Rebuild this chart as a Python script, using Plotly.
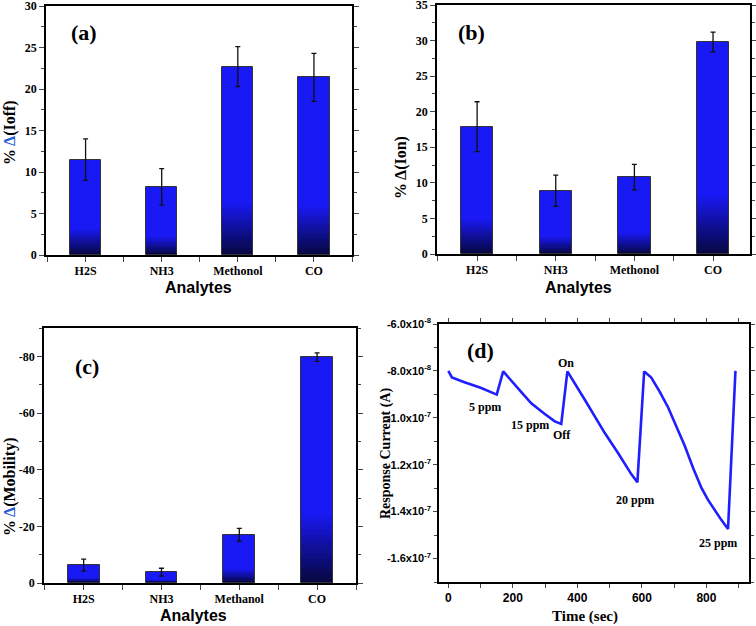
import plotly.graph_objects as go

# ---------------- data ----------------
categories_ab = ["H2S", "NH3", "Methonol", "CO"]
categories_c = ["H2S", "NH3", "Methanol", "CO"]
ioff_vals = [11.5, 8.2, 22.7, 21.4]
ioff_err = [2.5, 2.2, 2.4, 2.9]
ion_vals = [17.9, 8.9, 10.8, 29.8]
ion_err = [3.5, 2.2, 1.8, 1.4]
mob_vals = [-6.3, -3.8, -17.0, -79.7]
mob_err = [2.1, 1.4, 2.3, 1.5]

y_ticks_ab = [0, 5, 10, 15, 20, 25, 30, 35]
y_ticks_c = [0, -20, -40, -60, -80]
y_ticktext_c = ["0", "-20", "-40", "-60", "-80"]

time_s = [0, 11, 50, 100, 150, 170, 216, 257, 299, 330, 350,
          369, 423, 485, 526, 567, 586,
          607, 629, 655, 681, 707, 733, 759, 785, 805, 826, 846, 867, 890]
current_a = [-8.0e-8, -8.28e-8, -8.48e-8, -8.72e-8, -9.01e-8, -8.02e-8, -8.74e-8, -9.38e-8, -9.84e-8, -1.015e-7, -1.026e-7,
             -8.02e-8, -9.23e-8, -1.065e-7, -1.15e-7, -1.24e-7, -1.275e-7,
             -8.02e-8, -8.28e-8, -8.88e-8, -9.55e-8, -1.035e-7, -1.12e-7, -1.215e-7, -1.30e-7, -1.35e-7, -1.395e-7, -1.435e-7, -1.474e-7, -8.0e-8]

y_ticks_d = [-1.6e-7, -1.4e-7, -1.2e-7, -1.0e-7, -8.0e-8, -6.0e-8]
y_ticktext_d = ["-1.6x10<sup>-7</sup>", "-1.4x10<sup>-7</sup>", "-1.2x10<sup>-7</sup>",
                "-1.0x10<sup>-7</sup>", "-8.0x10<sup>-8</sup>", "-6.0x10<sup>-8</sup>"]

labels_d = ["5 ppm", "15 ppm", "Off", "On", "20 ppm", "25 ppm"]
labels_d_t = [115, 252, 353, 364, 578, 836]
labels_d_y = [-9.52e-8, -1.03e-7, -1.072e-7, -7.67e-8, -1.349e-7, -1.533e-7]

# ---------------- styling ----------------
SERIF = "Liberation Serif, Times New Roman, serif"
SANS = "Liberation Sans, Arial, sans-serif"
TOP = (25, 25, 245)
BOT = (8, 8, 70)

fig = go.Figure()


def add_bars(xa, ya, vals, errs, frac=0.27, width=0.41):
    xs = list(range(len(vals)))
    fig.add_trace(go.Bar(x=xs, y=vals, width=width, xaxis=xa, yaxis=ya,
                         marker=dict(color="rgb(%d,%d,%d)" % TOP, line=dict(width=0)),
                         showlegend=False, hoverinfo="skip"))
    n = 14
    for k in range(n):
        t = (k + 1) / n
        c = tuple(int(TOP[i] + (BOT[i] - TOP[i]) * t) for i in range(3))
        h = [v * frac * (1 - k / n) for v in vals]
        fig.add_trace(go.Bar(x=xs, y=h, width=width, xaxis=xa, yaxis=ya,
                             marker=dict(color="rgb(%d,%d,%d)" % c, line=dict(width=0)),
                             showlegend=False, hoverinfo="skip"))
    fig.add_trace(go.Bar(x=xs, y=vals, width=width, xaxis=xa, yaxis=ya,
                         marker=dict(color="rgba(0,0,0,0)", line=dict(width=1, color="#333")),
                         error_y=dict(type="data", array=errs, color="#111", thickness=1.3, width=2.5),
                         showlegend=False))


add_bars("x", "y", ioff_vals, ioff_err)
add_bars("x2", "y2", ion_vals, ion_err)
add_bars("x3", "y3", mob_vals, mob_err, frac=0.3)

fig.add_trace(go.Scatter(x=time_s, y=current_a, mode="lines", xaxis="x4", yaxis="y4",
                         line=dict(color="rgb(30,30,255)", width=2.6), showlegend=False))


def cat_xaxis(domain, anchor, ticktext, rng):
    return dict(domain=domain, anchor=anchor, range=rng, tickmode="array", automargin=False,
                tickvals=[0, 1, 2, 3], ticktext=ticktext, ticks="outside", ticklen=4,
                minor=dict(dtick=0.5, tick0=0.5, ticks="outside", ticklen=5),
                showline=True, linecolor="black", linewidth=1.5, mirror=True,
                showgrid=False, zeroline=False, ticklabeloverflow="allow",
                tickfont=dict(family=SERIF, size=12, color="black", weight="bold"))


def val_yaxis(domain, anchor, rng, tickvals, ticktext, minor):
    return dict(domain=domain, anchor=anchor, range=rng, tickmode="array", automargin=False,
                tickvals=tickvals, ticktext=ticktext, ticks="outside", ticklen=5,
                minor=dict(dtick=minor, ticks="outside", ticklen=3),
                showline=True, linecolor="black", linewidth=1.5, mirror="allticks",
                showgrid=False, zeroline=False, ticklabeloverflow="allow",
                tickfont=dict(family=SERIF, size=12, color="black", weight="bold"))


W, H = 756, 626
fx = lambda p: p / W
fy = lambda p: 1 - p / H

fig.update_layout(
    width=W, height=H, margin=dict(l=0, r=0, t=0, b=0, autoexpand=False),
    paper_bgcolor="white", plot_bgcolor="white", barmode="overlay", bargap=0,
    xaxis=cat_xaxis([fx(46), fx(352)], "y", categories_ab, [-0.52, 3.5]),
    yaxis=val_yaxis([fy(255), fy(6)], "x", [0, 30], y_ticks_ab[:7], [str(v) for v in y_ticks_ab[:7]], 2.5),
    xaxis2=cat_xaxis([fx(437), fx(750)], "y2", categories_ab, [-0.51, 3.47]),
    yaxis2=val_yaxis([fy(254), fy(5)], "x2", [0, 35], y_ticks_ab, [str(v) for v in y_ticks_ab], 2.5),
    xaxis3=cat_xaxis([fx(44), fx(356)], "y3", categories_c, [-0.51, 3.5]),
    yaxis3=val_yaxis([fy(583), fy(328)], "x3", [0, -90], y_ticks_c, y_ticktext_c, 10),
    xaxis4=dict(domain=[fx(439), fx(749)], anchor="y4", range=[-29, 932], dtick=200, automargin=False,
                ticks="outside", ticklen=4, minor=dict(dtick=100, ticks="outside", ticklen=4),
                showline=True, linecolor="black", linewidth=1.5, mirror="allticks",
                showgrid=False, zeroline=False, ticklabeloverflow="allow",
                tickfont=dict(family=SANS, size=12, color="black", weight="bold")),
    yaxis4=dict(domain=[fy(582), fy(324)], anchor="x4", range=[-1.7e-7, -6.0e-8], automargin=False,
                tickmode="array", tickvals=y_ticks_d, ticktext=y_ticktext_d,
                ticks="outside", ticklen=4, minor=dict(dtick=1e-8, tick0=-1.7e-7, ticks="outside", ticklen=3),
                showline=True, linecolor="black", linewidth=1.5, mirror="allticks",
                showgrid=False, zeroline=False, ticklabeloverflow="allow",
                tickfont=dict(family=SANS, size=11, color="black", weight="bold")),
)

ann = []


def paper_text(text, x, y, size, family=SERIF, angle=0):
    ann.append(dict(text=text, x=fx(x), y=fy(y), xref="paper", yref="paper", showarrow=False,
                    textangle=angle, xanchor="center", yanchor="middle",
                    font=dict(family=family, size=size, color="black", weight="bold")))


paper_text("(a)", 84, 32, 22)
paper_text("(b)", 471, 33, 22)
paper_text("(c)", 87, 366, 22)
paper_text("(d)", 480, 350, 22)

paper_text("% <span style='color:#2b5bd8'>Δ</span>(Ioff)", 10, 133, 16, angle=-90)
paper_text("% Δ(Ion)", 401, 168, 16, angle=-90)
paper_text("% <span style='color:#2b5bd8'>Δ</span>(Mobility)", 10, 487, 16, angle=-90)
paper_text("Response Current (A)", 386, 453, 14, angle=-90)

paper_text("Analytes", 198, 287, 16, family=SANS)
paper_text("Analytes", 578, 287, 16, family=SANS)
paper_text("Analytes", 193, 615, 16, family=SANS)
paper_text("Time (sec)", 585, 616, 15)

for txt, t, v in zip(labels_d, labels_d_t, labels_d_y):
    ann.append(dict(text=txt, x=t, y=v, xref="x4", yref="y4", showarrow=False,
                    font=dict(family=SERIF, size=12, color="black", weight="bold")))

fig.update_layout(annotations=ann)
fig.write_html("out.html", config={"displayModeBar": False},
               post_script="document.body.style.margin='0px';")
